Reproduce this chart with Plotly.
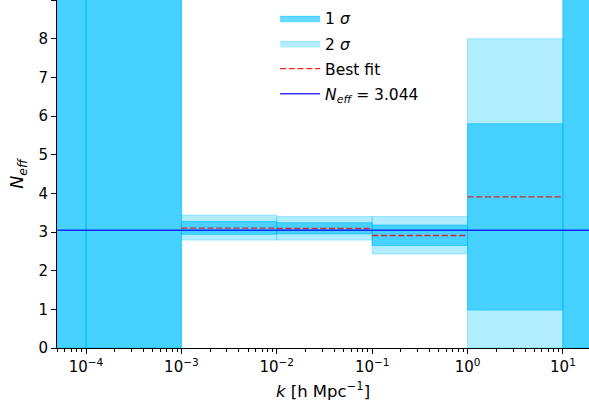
import plotly.graph_objects as go

# bins in k [h/Mpc]
bin_lo = [1e-5, 1e-4, 1e-3, 1e-2, 1e-1, 1.0, 10.0]
bin_hi = [1e-4, 1e-3, 1e-2, 1e-1, 1.0, 10.0, 100.0]
# 1 sigma band
one_lo = [0.0, 0.0, 2.94, 2.95, 2.65, 0.98, 0.0]
one_hi = [10.0, 10.0, 3.27, 3.24, 3.18, 5.80, 10.0]
# 2 sigma band
two_lo = [0.0, 0.0, 2.79, 2.79, 2.43, 0.0, 0.0]
two_hi = [10.0, 10.0, 3.44, 3.40, 3.40, 8.00, 10.0]
# best fit per bin
best = [None, None, 3.10, 3.09, 2.91, 3.91, None]
neff_std = 3.044
x_range_k = [5e-5, 18.75]
x_tickvals = [1e-4, 1e-3, 1e-2, 1e-1, 1, 10]
x_ticktext = ["10<sup>−4</sup>", "10<sup>−3</sup>", "10<sup>−2</sup>",
              "10<sup>−1</sup>", "10<sup>0</sup>", "10<sup>1</sup>"]

C1 = "rgba(0,191,255,0.6)"
C2 = "rgba(0,191,255,0.3)"
FONT = "DejaVu Sans"

fig = go.Figure()

def band(lo, hi, ylo, yhi, color, name, show, rank):
    fig.add_trace(go.Scatter(
        x=[lo, hi, hi, lo, lo], y=[ylo, ylo, yhi, yhi, ylo],
        fill="toself", fillcolor=color, mode="lines",
        line=dict(color=color, width=1),
        name=name, legendgroup=name, showlegend=show, legendrank=rank,
        hoverinfo="skip"))

for i in range(len(bin_lo)):
    band(bin_lo[i], bin_hi[i], two_lo[i], two_hi[i], C2, "2 <i>σ</i>", i == 0, 2)
for i in range(len(bin_lo)):
    band(bin_lo[i], bin_hi[i], one_lo[i], one_hi[i], C1, "1 <i>σ</i>", i == 0, 1)

first = True
for i in range(len(bin_lo)):
    if best[i] is None:
        continue
    fig.add_trace(go.Scatter(
        x=[bin_lo[i], bin_hi[i]], y=[best[i], best[i]], mode="lines",
        line=dict(color="rgba(255,0,0,0.85)", width=1.3, dash="6px,2.7px"),
        name="Best fit", legendgroup="best", showlegend=first, legendrank=3))
    first = False

fig.add_trace(go.Scatter(
    x=x_range_k, y=[neff_std, neff_std], mode="lines",
    line=dict(color="rgba(0,0,255,0.8)", width=1.5),
    name="<i>N<sub>eff</sub></i> = 3.044", showlegend=True, legendrank=4))

fig.update_layout(
    width=589, height=412,
    margin=dict(l=57, r=0, t=0, b=64),
    plot_bgcolor="white", paper_bgcolor="white",
    font=dict(family=FONT, size=15, color="black"),
    showlegend=True,
    legend=dict(x=0.41, y=0.995, xanchor="left", yanchor="top",
                bgcolor="rgba(0,0,0,0)", font=dict(size=15.5, family=FONT),
                itemwidth=40, tracegroupgap=2),
    xaxis=dict(type="log", range=[-4.304, 1.273],
               showline=True, linecolor="black", linewidth=1, mirror=True,
               ticks="outside", ticklen=5, tickcolor="black",
               showgrid=False, zeroline=False,
               tickvals=x_tickvals, ticktext=x_ticktext,
               tickfont=dict(size=15),
               minor=dict(ticks="outside", ticklen=3, tickcolor="black", dtick="D1", showgrid=False),
               title=dict(text="<i>k</i> [h Mpc<sup>−1</sup>]", font=dict(size=16.5), standoff=10)),
    yaxis=dict(range=[0, 9], dtick=1,
               showline=True, linecolor="black", linewidth=1,
               ticks="outside", ticklen=5, tickcolor="black",
               showgrid=False, zeroline=False,
               tickfont=dict(size=15),
               title=dict(text="<i>N<sub>eff</sub></i>", font=dict(size=17.5), standoff=10)),
)

fig.write_html("out.html")
